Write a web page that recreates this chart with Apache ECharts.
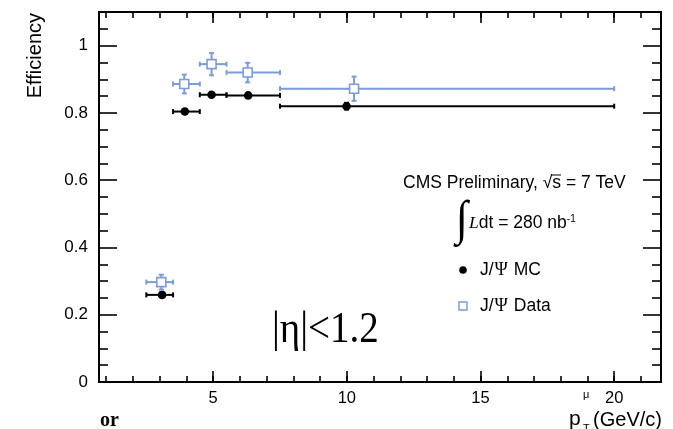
<!DOCTYPE html>
<html>
<head>
<meta charset="utf-8">
<script src="https://cdn.jsdelivr.net/npm/echarts@6/dist/echarts.min.js"></script>
<style>
  html, body { margin: 0; padding: 0; background: #fff; }
  #chart { width: 673px; height: 429px; }
</style>
</head>
<body>
<div id="chart"></div>
<script>
// Muon efficiency versus transverse momentum, |eta| < 1.2
const binLow  = [2.5, 3.5, 4.5, 5.5, 7.5];
const binHigh = [3.5, 4.5, 5.5, 7.5, 20];

const mcPt  = [3.09, 3.94, 4.94, 6.31, 9.99];
const mcEff = [0.259, 0.804, 0.854, 0.852, 0.820];
const mcErr = [0.006, 0.006, 0.005, 0.005, 0.010];

const dataPt  = [3.06, 3.92, 4.94, 6.29, 10.27];
const dataEff = [0.297, 0.886, 0.945, 0.920, 0.872];
const dataErr = [0.022, 0.028, 0.033, 0.029, 0.036];

const xMajorTicks = [5, 10, 15, 20];
const xMinorTicks = [1, 2, 3, 4, 5, 6, 7, 8, 9, 10, 11, 12, 13, 14, 15, 16, 17, 18, 19, 20, 21];
const yMajorTicks = [0, 0.2, 0.4, 0.6, 0.8, 1];
const yMinorTicks = [0.05, 0.1, 0.15, 0.25, 0.3, 0.35, 0.45, 0.5, 0.55, 0.65, 0.7, 0.75,
                     0.85, 0.9, 0.95, 1.05, 1.1];

const X_MIN = 0.73, X_MAX = 21.75;
const Y_MIN = 0, Y_MAX = 1.1;

const BLACK = '#000000';
const BLUE = '#7b9bdc';
const SANS = '"Liberation Sans", Arial, Helvetica, sans-serif';
const SERIF = '"Liberation Serif", "Times New Roman", serif';

const chart = echarts.init(document.getElementById('chart'), null, { renderer: 'canvas' });

function xAxisDef(position, ticks, len, labels) {
  return {
    type: 'value', position: position, min: X_MIN, max: X_MAX,
    axisLine: { show: true, onZero: false, lineStyle: { color: BLACK, width: 2 } },
    axisTick: { show: true, inside: true, length: len, customValues: ticks,
                lineStyle: { color: BLACK, width: 1.6 } },
    axisLabel: labels ? { show: true, customValues: ticks, margin: 8, color: BLACK,
                          fontSize: 16.5, fontFamily: SANS } : { show: false },
    splitLine: { show: false }
  };
}
function yAxisDef(position, ticks, len, labels) {
  return {
    type: 'value', position: position, min: Y_MIN, max: Y_MAX,
    axisLine: { show: true, onZero: false, lineStyle: { color: BLACK, width: 2 } },
    axisTick: { show: true, inside: true, length: len, customValues: ticks,
                lineStyle: { color: BLACK, width: 1.6 } },
    axisLabel: labels ? { show: true, customValues: ticks, margin: 11, color: BLACK,
                          fontSize: 17, fontFamily: SANS } : { show: false },
    splitLine: { show: false }
  };
}

// error bar with caps plus marker, positioned through the axes
function errorBarRenderer(color, markerKind) {
  return function (params, api) {
    const x = api.value(0), y = api.value(1);
    const lo = api.value(2), hi = api.value(3), e = api.value(4);
    const c = api.coord([x, y]);
    const pl = api.coord([lo, y]);
    const ph = api.coord([hi, y]);
    const pt = api.coord([x, y + e]);
    const pb = api.coord([x, y - e]);
    const cap = 2.5;
    const ls = { stroke: color, lineWidth: 2 };
    const children = [
      { type: 'line', shape: { x1: pl[0], y1: c[1], x2: ph[0], y2: c[1] }, style: ls },
      { type: 'line', shape: { x1: pl[0], y1: c[1] - cap, x2: pl[0], y2: c[1] + cap }, style: ls },
      { type: 'line', shape: { x1: ph[0], y1: c[1] - cap, x2: ph[0], y2: c[1] + cap }, style: ls },
      { type: 'line', shape: { x1: c[0], y1: pt[1], x2: c[0], y2: pb[1] }, style: ls },
      { type: 'line', shape: { x1: c[0] - cap, y1: pt[1], x2: c[0] + cap, y2: pt[1] }, style: ls },
      { type: 'line', shape: { x1: c[0] - cap, y1: pb[1], x2: c[0] + cap, y2: pb[1] }, style: ls }
    ];
    if (markerKind === 'circle') {
      children.push({ type: 'circle', shape: { cx: c[0], cy: c[1], r: 4.3 }, style: { fill: color } });
    } else {
      children.push({ type: 'rect', shape: { x: c[0] - 4.5, y: c[1] - 4.5, width: 9, height: 9 },
                      style: { fill: '#ffffff', stroke: color, lineWidth: 1.6 } });
    }
    return { type: 'group', children: children };
  };
}

const mcSeriesData = mcPt.map((x, i) => [x, mcEff[i], binLow[i], binHigh[i], mcErr[i]]);
const dataSeriesData = dataPt.map((x, i) => [x, dataEff[i], binLow[i], binHigh[i], dataErr[i]]);

// text widths for the overline above "s"
const measureCtx = document.createElement('canvas').getContext('2d');
const legendFont = '17.5px ' + SANS;
measureCtx.font = legendFont;
const cmsLeft = 403;
const preRoot = measureCtx.measureText('CMS Preliminary, ').width;
const rootW = measureCtx.measureText('\u221A').width;
const sW = measureCtx.measureText('s').width;

const option = {
  animation: false,
  backgroundColor: '#ffffff',
  grid: { left: 99, top: 12, right: 12, bottom: 47, containLabel: false },
  xAxis: [
    xAxisDef('bottom', xMajorTicks, 11, true),
    xAxisDef('bottom', xMinorTicks, 6, false),
    xAxisDef('top', xMajorTicks, 11, false),
    xAxisDef('top', xMinorTicks, 6, false)
  ],
  yAxis: [
    yAxisDef('left', yMajorTicks, 18, true),
    yAxisDef('left', yMinorTicks, 9, false),
    yAxisDef('right', yMajorTicks, 18, false),
    yAxisDef('right', yMinorTicks, 9, false)
  ],
  series: [
    { type: 'custom', name: 'J/\u03A8 MC', xAxisIndex: 0, yAxisIndex: 0, clip: false,
      renderItem: errorBarRenderer(BLACK, 'circle'), data: mcSeriesData, z: 3 },
    { type: 'custom', name: 'J/\u03A8 Data', xAxisIndex: 0, yAxisIndex: 0, clip: false,
      renderItem: errorBarRenderer(BLUE, 'square'), data: dataSeriesData, z: 4 }
  ],
  graphic: [
    // y-axis title
    { type: 'text', x: 35, y: 13, rotation: Math.PI / 2,
      style: { text: 'Efficiency', align: 'right', verticalAlign: 'middle',
               font: '20px ' + SANS, fill: BLACK } },
    // x-axis title
    { type: 'text', x: 569, y: 419,
      style: { text: 'p', align: 'left', verticalAlign: 'middle', font: '21px ' + SANS, fill: BLACK } },
    { type: 'text', x: 583, y: 395,
      style: { text: '\u03BC', align: 'left', verticalAlign: 'middle', font: '11px ' + SANS, fill: BLACK } },
    { type: 'text', x: 583, y: 429,
      style: { text: 'T', align: 'left', verticalAlign: 'middle', font: '11px ' + SANS, fill: BLACK } },
    { type: 'text', x: 662, y: 420,
      style: { text: '(GeV/c)', align: 'right', verticalAlign: 'middle', font: '20px ' + SANS, fill: BLACK } },
    // header lines
    { type: 'text', x: cmsLeft, y: 183,
      style: { text: 'CMS Preliminary, \u221As = 7 TeV', align: 'left', verticalAlign: 'middle',
               font: legendFont, fill: BLACK } },
    { type: 'line', shape: { x1: cmsLeft + preRoot + rootW - 1, y1: 175, x2: cmsLeft + preRoot + rootW + sW, y2: 175 },
      style: { stroke: BLACK, lineWidth: 1 } },
    { type: 'text', x: 456, y: 221, scaleY: 1.1,
      style: { text: '\u222B', align: 'left', verticalAlign: 'middle', font: '44px ' + SERIF, fill: BLACK } },
    { type: 'text', x: 469, y: 223,
      style: { text: '{it|L}dt = 280 nb{sup|-1}', align: 'left', verticalAlign: 'middle',
               font: legendFont, fill: BLACK,
               rich: { it: { font: 'italic 17.5px ' + SERIF, fill: BLACK },
                       sup: { font: '10px ' + SANS, fill: BLACK, verticalAlign: 'top', padding: [0, 0, 8, 0] } } } },
    // legend markers and labels
    { type: 'circle', shape: { cx: 463, cy: 270, r: 3.8 }, style: { fill: BLACK } },
    { type: 'text', x: 480, y: 270,
      style: { text: 'J/{psi|\u03A8} MC', align: 'left', verticalAlign: 'middle', font: legendFont, fill: BLACK,
               rich: { psi: { font: '18px ' + SERIF, fill: BLACK, padding: [0, 1, 0, 1] } } } },
    { type: 'rect', shape: { x: 459, y: 302, width: 8, height: 8 },
      style: { fill: '#ffffff', stroke: BLUE, lineWidth: 1.4 } },
    { type: 'text', x: 480, y: 306,
      style: { text: 'J/{psi|\u03A8} Data', align: 'left', verticalAlign: 'middle', font: legendFont, fill: BLACK,
               rich: { psi: { font: '18px ' + SERIF, fill: BLACK, padding: [0, 1, 0, 1] } } } },
    // pseudorapidity range
    { type: 'text', x: 272, y: 330, scaleY: 1.15,
      style: { text: '|\u03B7|<1.2', align: 'left', verticalAlign: 'middle', font: '39px ' + SERIF, fill: BLACK } },
    // word fragment at the lower left edge
    { type: 'text', x: 100, y: 421,
      style: { text: 'or', align: 'left', verticalAlign: 'middle', font: 'bold 20px ' + SERIF, fill: BLACK } }
  ]
};

chart.setOption(option);
</script>
</body>
</html>
